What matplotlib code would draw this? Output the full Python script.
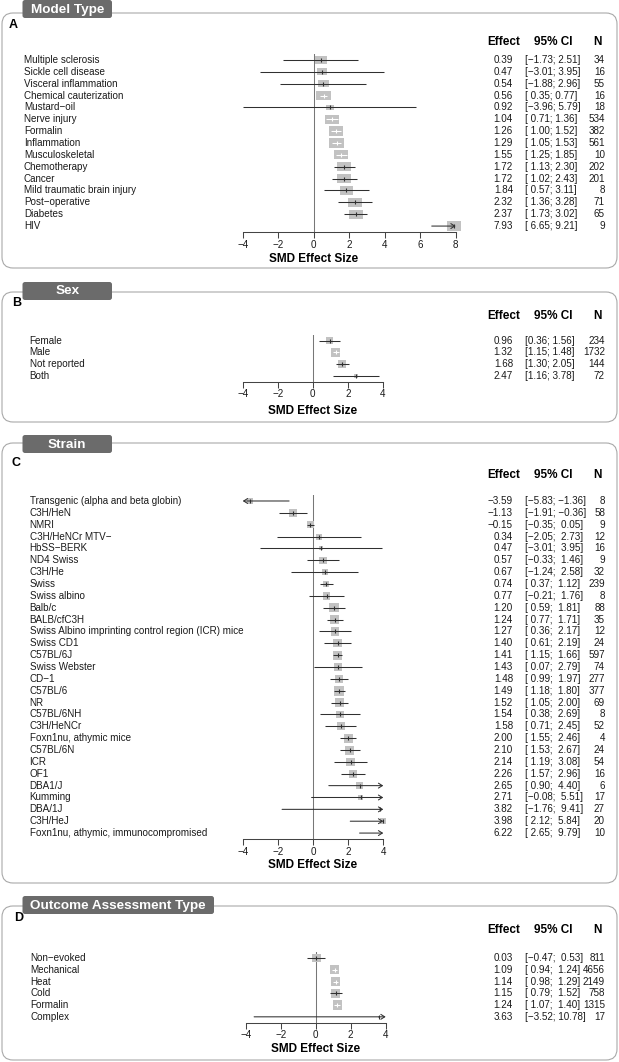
import matplotlib
matplotlib.use('Agg')
import matplotlib.pyplot as plt
from matplotlib.patches import FancyBboxPatch, Rectangle
from matplotlib.transforms import blended_transform_factory
import numpy as np

plt.rcParams['font.family'] = ['Liberation Sans', 'DejaVu Sans']

M = '\u2212'

# ---------------- data ----------------
model_labels = ["Multiple sclerosis", "Sickle cell disease", "Visceral inflammation",
                "Chemical cauterization", "Mustard" + M + "oil", "Nerve injury", "Formalin",
                "Inflammation", "Musculoskeletal", "Chemotherapy", "Cancer",
                "Mild traumatic brain injury", "Post" + M + "operative", "Diabetes", "HIV"]
model_effect = [0.39, 0.47, 0.54, 0.56, 0.92, 1.04, 1.26, 1.29, 1.55, 1.72, 1.72, 1.84, 2.32, 2.37, 7.93]
model_lower = [-1.73, -3.01, -1.88, 0.35, -3.96, 0.71, 1.00, 1.05, 1.25, 1.13, 1.02, 0.57, 1.36, 1.73, 6.65]
model_upper = [2.51, 3.95, 2.96, 0.77, 5.79, 1.36, 1.52, 1.53, 1.85, 2.30, 2.43, 3.11, 3.28, 3.02, 9.21]
model_n = [34, 16, 55, 16, 18, 534, 382, 561, 10, 202, 201, 8, 71, 65, 9]
model_weight = [5.5, 4.4, 4.9, 7.8, 2.9, 7.5, 7.8, 7.8, 7.2, 7.8, 7.8, 6.5, 7.2, 7.5, 7.5]

sex_labels = ["Female", "Male", "Not reported", "Both"]
sex_effect = [0.96, 1.32, 1.68, 2.47]
sex_lower = [0.36, 1.15, 1.30, 1.16]
sex_upper = [1.56, 1.48, 2.05, 3.78]
sex_n = [234, 1732, 144, 72]
sex_weight = [21.8, 39.3, 31.1, 7.8]

strain_labels = ["Transgenic (alpha and beta globin)", "C3H/HeN", "NMRI", "C3H/HeNCr MTV" + M,
                 "HbSS" + M + "BERK", "ND4 Swiss", "C3H/He", "Swiss", "Swiss albino", "Balb/c",
                 "BALB/cfC3H", "Swiss Albino imprinting control region (ICR) mice", "Swiss CD1",
                 "C57BL/6J", "Swiss Webster", "CD" + M + "1", "C57BL/6", "NR", "C57BL/6NH",
                 "C3H/HeNCr", "Foxn1nu, athymic mice", "C57BL/6N", "ICR", "OF1", "DBA1/J",
                 "Kumming", "DBA/1J", "C3H/HeJ", "Foxn1nu, athymic, immunocompromised"]
strain_effect = [-3.59, -1.13, -0.15, 0.34, 0.47, 0.57, 0.67, 0.74, 0.77, 1.20, 1.24, 1.27, 1.40,
                 1.41, 1.43, 1.48, 1.49, 1.52, 1.54, 1.58, 2.00, 2.10, 2.14, 2.26, 2.65, 2.71,
                 3.82, 3.98, 6.22]
strain_lower = [-5.83, -1.91, -0.35, -2.05, -3.01, -0.33, -1.24, 0.37, -0.21, 0.59, 0.77, 0.36,
                0.61, 1.15, 0.07, 0.99, 1.18, 1.05, 0.38, 0.71, 1.55, 1.53, 1.19, 1.57, 0.90,
                -0.08, -1.76, 2.12, 2.65]
strain_upper = [-1.36, -0.36, 0.05, 2.73, 3.95, 1.46, 2.58, 1.12, 1.76, 1.81, 1.71, 2.17, 2.19,
                1.66, 2.79, 1.97, 1.80, 2.00, 2.69, 2.45, 2.46, 2.67, 3.08, 2.96, 4.40, 5.51,
                9.41, 5.84, 9.79]
strain_n = [8, 58, 9, 12, 16, 9, 32, 239, 8, 88, 35, 12, 24, 597, 74, 277, 377, 69, 8, 52, 4,
            24, 54, 16, 6, 17, 27, 20, 10]
strain_weight = [1.7, 3.9, 2.9, 2.2, 1.0, 3.3, 2.0, 2.8, 3.3, 5.3, 5.3, 4.3, 4.3, 4.7, 3.3, 4.3,
                 6.2, 5.0, 3.9, 4.3, 5.3, 5.0, 4.3, 4.3, 2.8, 1.5, 0.2, 2.2, 0.6]

outcome_labels = ["Non" + M + "evoked", "Mechanical", "Heat", "Cold", "Formalin", "Complex"]
outcome_effect = [0.03, 1.09, 1.14, 1.15, 1.24, 3.63]
outcome_lower = [-0.47, 0.94, 0.98, 0.79, 1.07, -3.52]
outcome_upper = [0.53, 1.24, 1.29, 1.52, 1.40, 10.78]
outcome_n = [811, 4656, 2149, 758, 1315, 17]
outcome_weight = [18.8, 18.8, 20.0, 20.0, 21.3, 1.0]

col_headers = ["Effect", "95% CI", "N"]
x_label = "SMD Effect Size"

panels = [
    dict(title="Model Type", letter="A", labels=model_labels, eff=model_effect, lo=model_lower,
         hi=model_upper, n=model_n, w=model_weight, xlim=(-4, 8), ticks=[-4, -2, 0, 2, 4, 6, 8],
         tab=(22.5, 0, 112, 18), box=(2, 13, 617, 268), letter_xy=(9, 25), label_x=24,
         header_y=41.7, axis_y=232, step=11.86, xpx=(242.7, 455.7), xlabel_y=259,
         max_side=14.3, aspect=0.66),
    dict(title="Sex", letter="B", labels=sex_labels, eff=sex_effect, lo=sex_lower,
         hi=sex_upper, n=sex_n, w=sex_weight, xlim=(-4, 4), ticks=[-4, -2, 0, 2, 4],
         tab=(22.5, 282, 112, 300), box=(2, 292, 617, 422), letter_xy=(12, 303), label_x=29.6,
         header_y=316, axis_y=381.7, step=11.77, xpx=(242.7, 383.0), xlabel_y=411,
         max_side=9.0, aspect=1.0),
    dict(title="Strain", letter="C", labels=strain_labels, eff=strain_effect, lo=strain_lower,
         hi=strain_upper, n=strain_n, w=strain_weight, xlim=(-4, 4), ticks=[-4, -2, 0, 2, 4],
         tab=(22.5, 435, 112, 453), box=(2, 443, 617, 883), letter_xy=(12, 463), label_x=29.6,
         header_y=475, axis_y=839, step=11.86, xpx=(242.7, 383.3), xlabel_y=865,
         max_side=10.0, aspect=1.0),
    dict(title="Outcome Assessment Type", letter="D", labels=outcome_labels, eff=outcome_effect,
         lo=outcome_lower, hi=outcome_upper, n=outcome_n, w=outcome_weight, xlim=(-4, 4),
         ticks=[-4, -2, 0, 2, 4], tab=(22.5, 896, 214, 914), box=(2, 906, 617, 1060),
         letter_xy=(14, 918), label_x=30.5, header_y=930, axis_y=1022.7, step=11.75,
         xpx=(245.7, 385.7), xlabel_y=1049, max_side=9.3, aspect=1.0),
]

# ---------------- figure ----------------
W, H = 619, 1062
fig = plt.figure(figsize=(W / 100, H / 100), dpi=100)
bg = fig.add_axes([0, 0, 1, 1], zorder=0)
bg.set_xlim(0, W)
bg.set_ylim(H, 0)
bg.axis('off')

LINE = '#303030'
BOXC = '#c2c2c2'
TXT = '#1a1a1a'
FS = 7.1


def fnum(v):
    return f"{v:.2f}".replace('-', M)


def fci(lo, hi):
    ls = [fnum(v) for v in lo]
    hs = [fnum(v) for v in hi]
    wl = max(len(s) for s in ls)
    wh = max(len(s) for s in hs)
    return [f"[{a.rjust(wl)}; {b.rjust(wh)}]" for a, b in zip(ls, hs)]


for p in panels:
    # rounded frame
    x0, y0, x1, y1 = p['box']
    bg.add_patch(FancyBboxPatch((x0, y0), x1 - x0, y1 - y0,
                                boxstyle='round,pad=0,rounding_size=11',
                                fc='white', ec='#a9a9a9', lw=0.8, zorder=1))
    # tab
    tx0, ty0, tx1, ty1 = p['tab']
    bg.add_patch(FancyBboxPatch((tx0, ty0), tx1 - tx0, ty1 - ty0,
                                boxstyle='round,pad=0,rounding_size=2.5',
                                fc='#6b6b6b', ec='none', zorder=2))
    bg.text((tx0 + tx1) / 2, (ty0 + ty1) / 2 + 0.5, p['title'], color='white',
            fontsize=9.7, fontweight='bold', ha='center', va='center', zorder=3)
    bg.text(p['letter_xy'][0], p['letter_xy'][1], p['letter'], fontsize=9,
            fontweight='bold', ha='left', va='center', zorder=3)
    # column headers
    hy = p['header_y']
    bg.text(504, hy, col_headers[0], fontsize=8.5, fontweight='bold', ha='center', va='center', zorder=3)
    bg.text(553, hy, col_headers[1], fontsize=8.5, fontweight='bold', ha='center', va='center', zorder=3)
    bg.text(597, hy, col_headers[2], fontsize=8.5, fontweight='bold', ha='center', va='center', zorder=3)

    nrow = len(p['labels'])
    xa0, xa1 = p['xpx']
    ax = fig.add_axes([xa0 / W, 1 - p['axis_y'] / H, (xa1 - xa0) / W, nrow * p['step'] / H],
                      zorder=5)
    ax.patch.set_visible(False)
    xmin, xmax = p['xlim']
    ax.set_xlim(xmin, xmax)
    ax.set_ylim(nrow - 0.5, -0.5)
    for s in ['top', 'right', 'left']:
        ax.spines[s].set_visible(False)
    ax.spines['bottom'].set_color('#444444')
    ax.spines['bottom'].set_linewidth(0.75)
    ax.set_yticks([])
    ax.set_xticks(p['ticks'])
    ax.set_xticklabels([fnum(t).replace('.00', '') for t in p['ticks']])
    ax.tick_params(axis='x', length=4.3, width=0.75, color='#444444', pad=1.2,
                   labelsize=FS, labelcolor=TXT)
    ax.axvline(0, color='#777777', lw=0.75, zorder=1)

    ppu = (xa1 - xa0) / (xmax - xmin)
    wmax = max(p['w'])
    trans = blended_transform_factory(bg.transData, ax.transData)
    cis = fci(p['lo'], p['hi'])
    for i in range(nrow):
        est, lo, hi, w = p['eff'][i], p['lo'][i], p['hi'][i], p['w'][i]
        side = p['max_side'] * np.sqrt(w / wmax)
        inrange = xmin <= est <= xmax
        inside = inrange and (hi - lo) * ppu < side
        col = 'white' if inside else LINE
        if inrange:
            bw = side / ppu
            bh = side * p['aspect'] / p['step']
            ax.add_patch(Rectangle((est - bw / 2, i - bh / 2), bw, bh, fc=BOXC, ec='none',
                                   zorder=2, clip_on=False))
        lo_c, hi_c = max(lo, xmin), min(hi, xmax)
        if lo < xmin or hi > xmax:
            style = '<->' if (lo < xmin and hi > xmax) else ('->' if hi > xmax else '<-')
            ax.annotate('', xy=(hi_c, i), xytext=(lo_c, i),
                        arrowprops=dict(arrowstyle=style + ',head_length=0.35,head_width=0.22',
                                        color=col, lw=0.75, shrinkA=0, shrinkB=0,
                                        mutation_scale=8), zorder=3, annotation_clip=False)
        else:
            ax.plot([lo_c, hi_c], [i, i], color=col, lw=0.75, zorder=3, clip_on=False,
                    solid_capstyle='butt')
        if inrange:
            ax.plot([est], [i], marker='|', ms=2.6, mew=0.8, color=col, zorder=4, clip_on=False)
        # texts
        bg.text(p['label_x'], i, p['labels'][i], transform=trans, fontsize=FS, color=TXT,
                ha='left', va='center', zorder=3)
        bg.text(513, i, fnum(est), transform=trans, fontsize=FS, color=TXT,
                ha='right', va='center', zorder=3)
        bg.text(525, i, cis[i], transform=trans, fontsize=FS, color=TXT,
                ha='left', va='center', zorder=3)
        bg.text(605, i, str(p['n'][i]), transform=trans, fontsize=FS, color=TXT,
                ha='right', va='center', zorder=3)
    # x label
    xt = blended_transform_factory(ax.transData, bg.transData)
    bg.text(0, p['xlabel_y'], x_label, transform=xt, fontsize=8.5, fontweight='bold',
            ha='center', va='center', zorder=3)

fig.savefig('out.png', dpi=100)
